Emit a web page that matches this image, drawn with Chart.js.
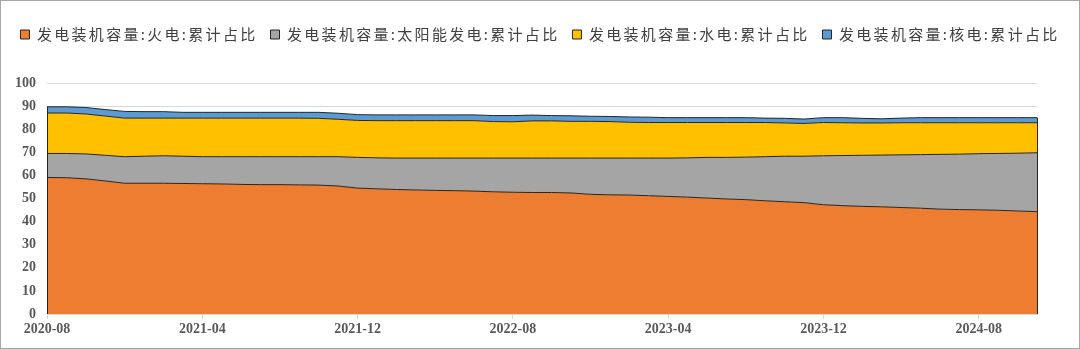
<!DOCTYPE html>
<html>
<head>
<meta charset="utf-8">
<script src="https://cdn.jsdelivr.net/npm/chart.js@4.4.1/dist/chart.umd.min.js"></script>
<style>
  html, body { margin: 0; padding: 0; background: #fff; }
  #wrap { position: relative; width: 1080px; height: 349px; box-sizing: border-box; border: 1px solid #a6a6a6; }
  #c { display: block; }
</style>
</head>
<body>
<div id="wrap"><canvas id="c" width="1078" height="347"></canvas></div>
<script>
// 月份 2020-08 .. 2024-11
const months = [];
for (let y = 2020, m = 8; months.length < 52; m++) {
  if (m > 12) { m = 1; y++; }
  months.push(y + '-' + String(m).padStart(2, '0'));
}

// 累计占比 (%)
const thermal = [59.1, 59.0, 58.5, 57.6, 56.6, 56.6, 56.6, 56.5, 56.4, 56.3, 56.1, 56.0, 56.0, 55.9, 55.8, 55.4,
  54.5, 54.2, 53.9, 53.7, 53.5, 53.4, 53.2, 52.9, 52.7, 52.6, 52.6, 52.4, 51.8, 51.6, 51.5, 51.2,
  50.9, 50.6, 50.2, 49.8, 49.5, 49.0, 48.6, 48.2, 47.3, 46.9, 46.6, 46.4, 46.1, 45.8, 45.4, 45.2,
  45.1, 44.9, 44.6, 44.3];
const solar = [10.4, 10.5, 10.8, 11.1, 11.5, 11.7, 11.9, 11.8, 11.7, 11.8, 12.0, 12.1, 12.1, 12.2, 12.3, 12.7,
  13.3, 13.4, 13.6, 13.8, 14.0, 14.1, 14.3, 14.6, 14.8, 14.9, 14.9, 15.1, 15.7, 15.9, 16.0, 16.3,
  16.6, 17.0, 17.6, 18.0, 18.4, 19.1, 19.7, 20.1, 21.2, 21.7, 22.1, 22.4, 22.8, 23.2, 23.7, 24.0,
  24.3, 24.6, 25.0, 25.5];
const hydro = [17.5, 17.5, 17.3, 17.0, 16.7, 16.5, 16.3, 16.5, 16.7, 16.7, 16.7, 16.7, 16.7, 16.7, 16.6, 16.2,
  16.0, 16.1, 16.2, 16.2, 16.2, 16.2, 16.2, 15.8, 15.7, 16.1, 16.1, 15.9, 15.9, 15.8, 15.5, 15.4,
  15.4, 15.3, 15.1, 15.1, 15.0, 14.8, 14.4, 14.2, 14.4, 14.2, 14.0, 13.9, 13.9, 13.8, 13.7, 13.6,
  13.4, 13.3, 13.2, 13.0];
const nuclear = [2.7, 2.7, 2.8, 2.8, 2.9, 2.8, 2.8, 2.5, 2.5, 2.5, 2.5, 2.5, 2.5, 2.5, 2.6, 2.6,
  2.5, 2.5, 2.5, 2.5, 2.5, 2.5, 2.5, 2.6, 2.7, 2.5, 2.3, 2.4, 2.2, 2.2, 2.3, 2.3,
  2.1, 2.1, 2.1, 2.1, 2.1, 1.9, 2.0, 1.9, 2.1, 2.2, 2.0, 1.8, 2.0, 2.2, 2.2, 2.2,
  2.2, 2.2, 2.2, 2.2];

const names = ['发电装机容量:火电:累计占比', '发电装机容量:太阳能发电:累计占比', '发电装机容量:水电:累计占比', '发电装机容量:核电:累计占比'];
const colors = ['#ED7D31', '#A5A5A5', '#FFC000', '#5B9BD5'];
const series = [thermal, solar, hydro, nuclear];

const yTicks = [0, 10, 20, 30, 40, 50, 60, 70, 80, 90, 100];

// 图例：字距加宽，下方留空
const legendTweak = {
  id: 'legendTweak',
  afterInit(chart) {
    const lg = chart.legend;
    const origFit = lg.fit.bind(lg);
    const origDraw = lg.draw.bind(lg);
    lg.fit = function () {
      chart.ctx.letterSpacing = '2.3px';
      origFit();
      chart.ctx.letterSpacing = '0px';
      lg.height += 31;
    };
    lg.draw = function () {
      chart.ctx.letterSpacing = '2.3px';
      origDraw();
      chart.ctx.letterSpacing = '0px';
    };
  }
};

// 左右两端的竖边
const edgePlugin = {
  id: 'edges',
  afterDatasetsDraw(chart) {
    const ctx = chart.ctx;
    const top = chart.getDatasetMeta(series.length - 1).data;
    const y0 = chart.scales.y.getPixelForValue(0);
    ctx.save();
    ctx.strokeStyle = '#262626';
    ctx.lineWidth = 1;
    [top[0], top[top.length - 1]].forEach(p => {
      ctx.beginPath();
      ctx.moveTo(Math.round(p.x) + 0.5, y0);
      ctx.lineTo(Math.round(p.x) + 0.5, p.y);
      ctx.stroke();
    });
    ctx.restore();
  }
};

new Chart(document.getElementById('c'), {
  type: 'line',
  data: {
    labels: months,
    datasets: series.map((d, i) => ({
      label: names[i],
      data: d,
      backgroundColor: colors[i],
      borderColor: '#262626',
      borderWidth: 1,
      fill: i === 0 ? 'origin' : '-1',
      pointRadius: 0,
      tension: 0
    }))
  },
  options: {
    responsive: false,
    animation: false,
    layout: { padding: { left: 0, right: 0, top: 13, bottom: 4 } },
    plugins: {
      tooltip: { enabled: false },
      legend: {
        position: 'top',
        labels: {
          boxWidth: 9,
          boxHeight: 9,
          padding: 13,
          color: '#404040',
          font: { family: '"Noto Sans CJK SC", sans-serif', size: 15 }
        }
      }
    },
    scales: {
      x: {
        grid: {
          drawOnChartArea: false,
          drawTicks: true,
          tickLength: 5,
          color: '#d9d9d9'
        },
        border: { color: '#d9d9d9' },
        ticks: {
          autoSkip: false,
          maxRotation: 0,
          padding: 2,
          color: '#595959',
          font: { family: '"Liberation Serif", serif', size: 14, weight: 'bold' },
          callback: (v, i) => (i % 8 === 0 ? months[i] : null)
        },
        afterFit: s => { s.height = 30; s.paddingRight = 42; }
      },
      y: {
        stacked: true,
        min: 0,
        max: 100,
        afterBuildTicks: s => { s.ticks = yTicks.map(v => ({ value: v })); },
        grid: { color: '#d9d9d9', drawTicks: false },
        border: { display: false },
        ticks: {
          padding: 11,
          color: '#595959',
          font: { family: '"Liberation Serif", serif', size: 14, weight: 'bold' }
        },
        afterFit: s => { s.width = 46; }
      }
    }
  },
  plugins: [legendTweak, edgePlugin]
});
</script>
</body>
</html>
